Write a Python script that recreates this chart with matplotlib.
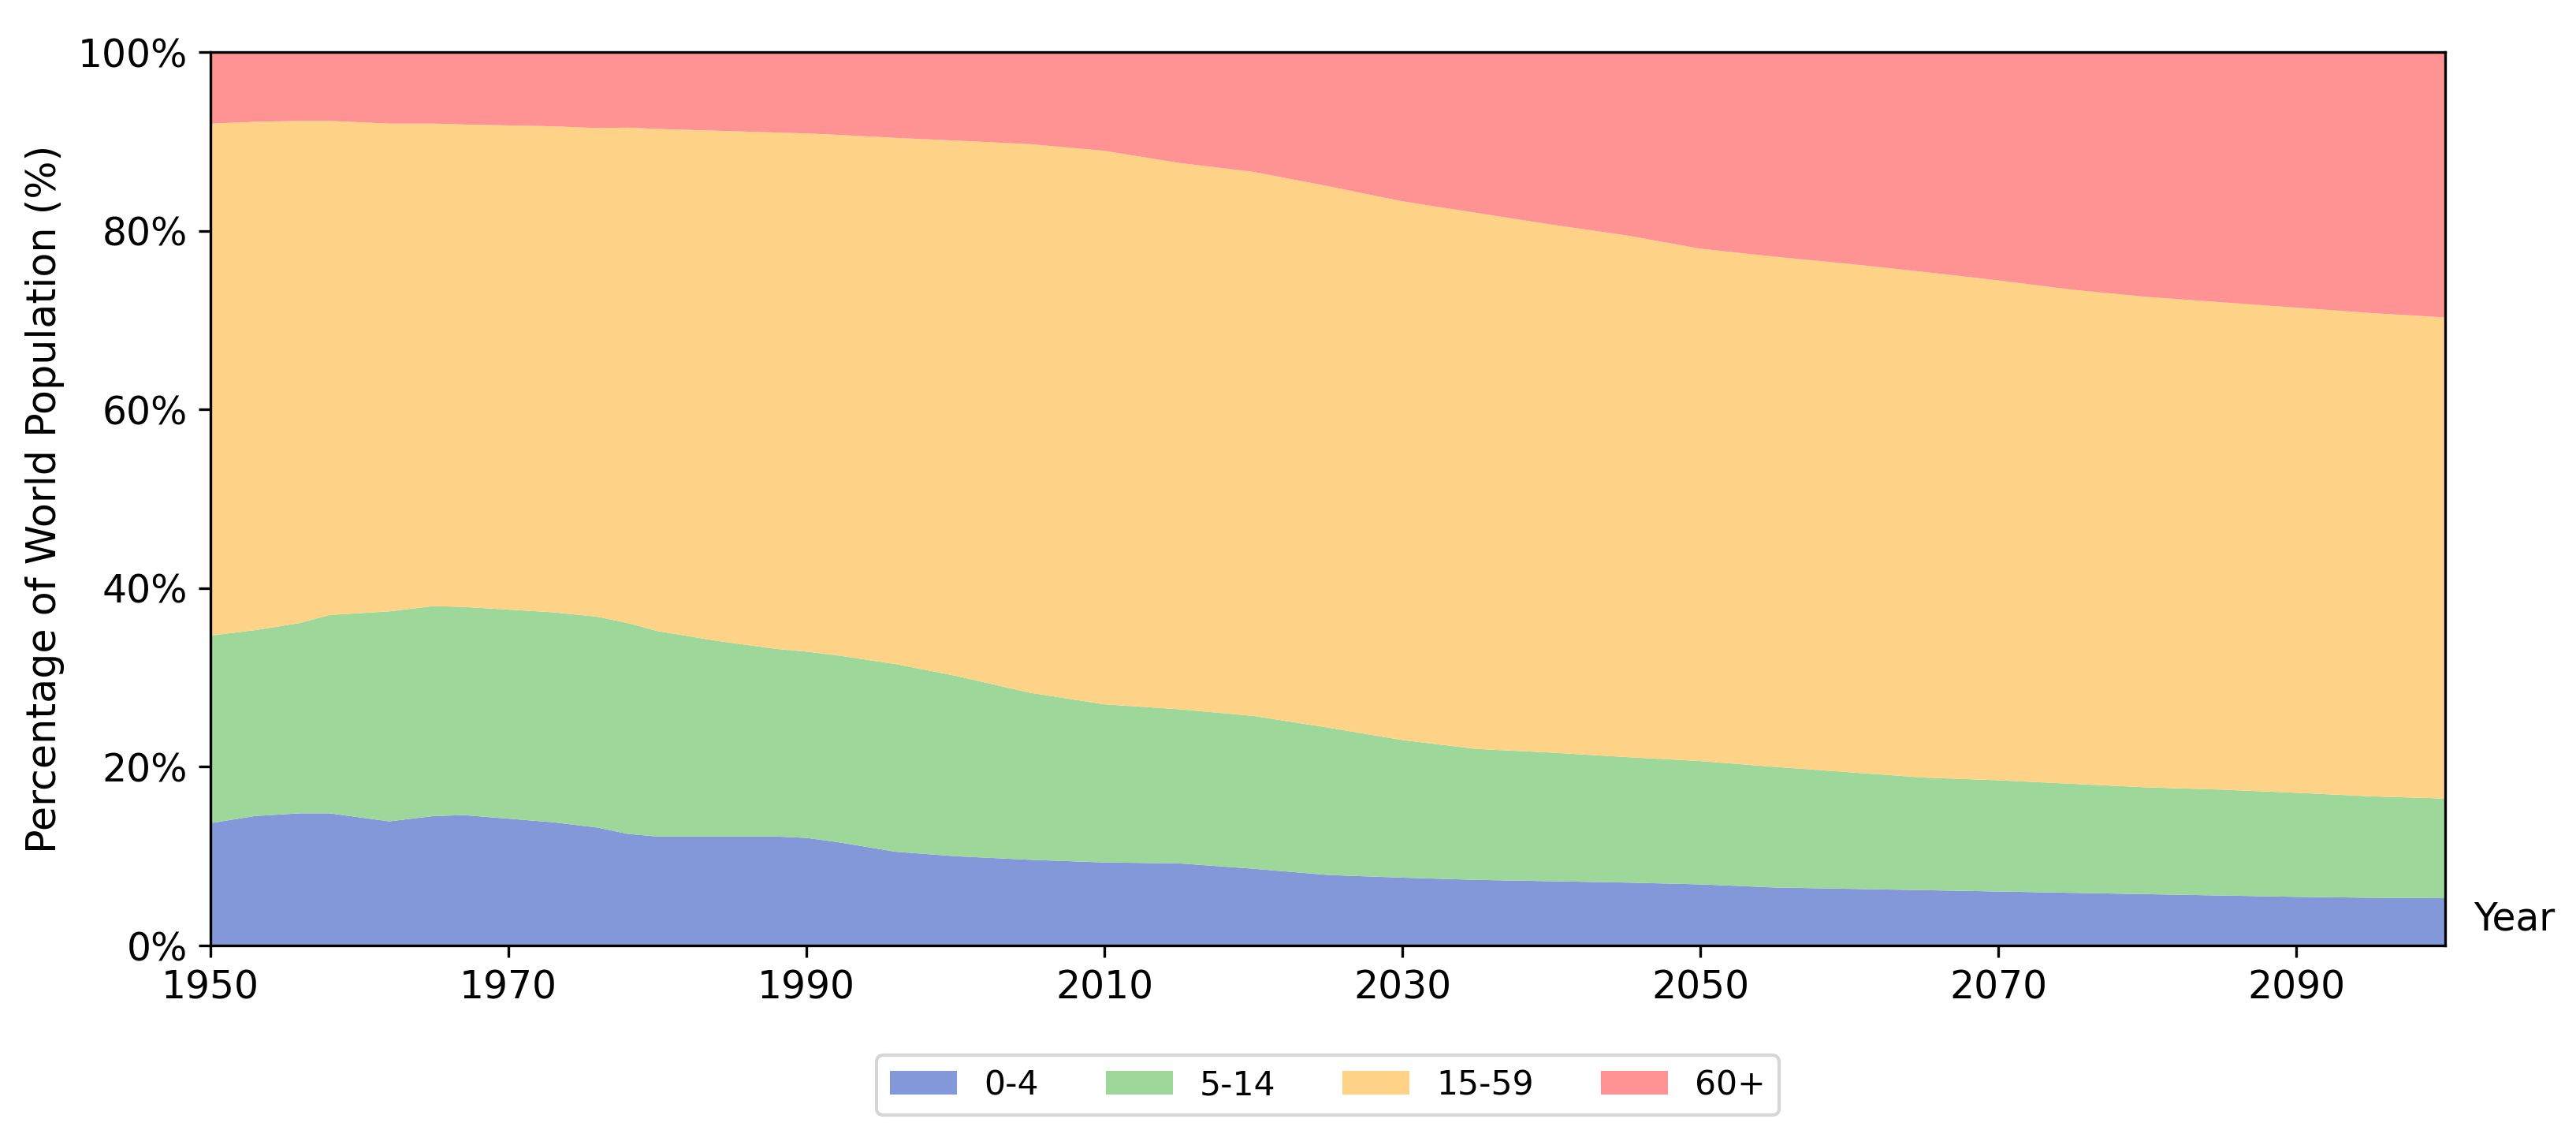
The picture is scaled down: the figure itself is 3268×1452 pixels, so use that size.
import matplotlib
matplotlib.use("Agg")
import matplotlib.pyplot as plt
from matplotlib.ticker import FuncFormatter

years = [1950, 1953, 1956, 1958, 1962, 1965, 1967, 1970, 1973, 1976, 1978, 1980,
         1984, 1988, 1990, 1992, 1996, 2000, 2005, 2010, 2015, 2020, 2025, 2030,
         2035, 2040, 2045, 2050, 2055, 2060, 2065, 2070, 2075, 2080, 2085, 2090,
         2095, 2100]

age_0_4 = [13.7, 14.5, 14.8, 14.8, 13.9, 14.5, 14.6, 14.2, 13.8, 13.2, 12.5, 12.2,
           12.2, 12.2, 12.05, 11.6, 10.5, 10.0, 9.6, 9.3, 9.2, 8.6, 7.9, 7.6,
           7.35, 7.2, 7.05, 6.85, 6.5, 6.35, 6.2, 6.05, 5.9, 5.75, 5.6, 5.45,
           5.35, 5.3]

age_5_14 = [21.0, 20.8, 21.3, 22.2, 23.5, 23.5, 23.3, 23.4, 23.5, 23.6, 23.6, 23.0,
            21.9, 21.0, 20.85, 20.9, 21.0, 20.2, 18.7, 17.7, 17.25, 17.1, 16.5, 15.4,
            14.65, 14.4, 14.05, 13.8, 13.5, 13.05, 12.6, 12.45, 12.2, 11.95, 11.85, 11.65,
            11.35, 11.15]

age_15_59 = [57.3, 56.9, 56.2, 55.3, 54.6, 54.0, 54.0, 54.2, 54.4, 54.7, 55.45, 56.2,
             57.1, 57.8, 58.0, 58.25, 58.9, 59.9, 61.4, 61.95, 61.15, 60.9, 60.6, 60.3,
             60.0, 59.1, 58.4, 57.35, 57.1, 56.9, 56.6, 55.95, 55.3, 54.9, 54.55, 54.3,
             54.1, 53.85]

age_60_plus = [8.0, 7.8, 7.7, 7.7, 8.0, 8.0, 8.1, 8.2, 8.3, 8.5, 8.45, 8.6,
               8.8, 9.0, 9.1, 9.25, 9.6, 9.9, 10.3, 11.05, 12.4, 13.4, 15.0, 16.7,
               18.0, 19.3, 20.5, 22.0, 22.9, 23.7, 24.6, 25.55, 26.6, 27.4, 28.0, 28.6,
               29.2, 29.7]

labels = ["0-4", "5-14", "15-59", "60+"]
colors = ["#8298D9", "#9DD89A", "#FED387", "#FF9292"]
xticks = [1950, 1970, 1990, 2010, 2030, 2050, 2070, 2090]
yticks = [0, 20, 40, 60, 80, 100]

plt.rcParams['font.family'] = ['DejaVu Sans']

fig = plt.figure(figsize=(3268 / 300, 1452 / 300), dpi=300)
ax = fig.add_axes([0.0817, 0.1742, 0.9492 - 0.0817, 0.9545 - 0.1742])

ax.stackplot(years, age_0_4, age_5_14, age_15_59, age_60_plus,
             labels=labels, colors=colors, linewidth=0)

ax.set_xlim(1950, 2100)
ax.set_ylim(0, 100)
ax.set_xticks(xticks)
ax.set_yticks(yticks)
ax.yaxis.set_major_formatter(FuncFormatter(lambda v, p: f"{int(v)}%"))
ax.tick_params(labelsize=11.7)

ax.set_ylabel("Percentage of World Population (%)", fontsize=12.2)
ax.set_xlabel("Year", fontsize=11.7)
ax.xaxis.set_label_coords(1.031, 0.03)
ax.xaxis.label.set_horizontalalignment('center')
ax.xaxis.label.set_verticalalignment('center')

ax.legend(loc="upper center", bbox_to_anchor=(0.5, -0.104), ncol=4, fontsize=10.2,
          frameon=True)

fig.savefig("out.png", dpi=300)
